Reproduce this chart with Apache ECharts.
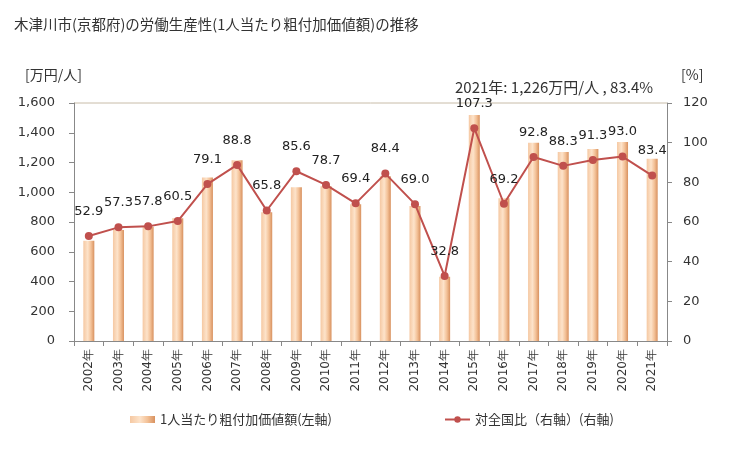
<!DOCTYPE html>
<html><head><meta charset="utf-8">
<script src="https://cdn.jsdelivr.net/npm/echarts@6/dist/echarts.min.js"></script>
<style>html,body{margin:0;padding:0;background:#fff}#c{width:729px;height:450px}</style>
</head><body><div id="c"></div>
<script>
const categories = ['2002年','2003年','2004年','2005年','2006年','2007年','2008年','2009年','2010年','2011年','2012年','2013年','2014年','2015年','2016年','2017年','2018年','2019年','2020年','2021年'];
const productivity = [674, 746, 768, 825, 1100, 1215, 865, 1033, 1040, 919, 1107, 908, 432, 1519, 959, 1333, 1271, 1291, 1338, 1226];
const ratio = [52.9, 57.3, 57.8, 60.5, 79.1, 88.8, 65.8, 85.6, 78.7, 69.4, 84.4, 69.0, 32.8, 107.3, 69.2, 92.8, 88.3, 91.3, 93.0, 83.4];
const leftTicks = {min: 0, max: 1600, interval: 200};
const rightTicks = {min: 0, max: 120, interval: 20};
const titleText = '木津川市(京都府)の労働生産性(1人当たり粗付加価値額)の推移';
const noteText = '2021年: 1,226万円/人 , 83.4%';
const barName = '1人当たり粗付加価値額(左軸)';
const lineName = '対全国比（右軸）(右軸)';

const jp = '"Noto Sans CJK JP", "Noto Sans", sans-serif';
const num = '"DejaVu Sans", Verdana, sans-serif';
const chart = echarts.init(document.getElementById('c'));
const barColor = new echarts.graphic.LinearGradient(0, 0, 1, 0, [
  {offset: 0, color: '#f5c8a2'},
  {offset: 0.4, color: '#fde3ca'},
  {offset: 0.7, color: '#f3c197'},
  {offset: 1, color: '#d8915f'}
]);
const legendText = {fontFamily: jp, fontSize: 13, color: '#333'};
chart.setOption({
  animation: false,
  title: [
    {text: titleText, left: 9, top: 12, textStyle: {fontFamily: jp, fontSize: 14.5, fontWeight: 'normal', color: '#333'}},
    {text: '[万円/人]', left: 20, top: 63, textStyle: {fontFamily: jp, fontSize: 14, fontWeight: 'normal', color: '#333'}},
    {text: '[%]', left: 676, top: 63, textStyle: {fontFamily: jp, fontSize: 14, fontWeight: 'normal', color: '#333'}},
    {text: noteText, left: 450, top: 75, textStyle: {fontFamily: jp, fontSize: 15, fontWeight: 'normal', color: '#333'}}
  ],
  grid: {left: 74, right: 62, top: 103, bottom: 109},
  legend: [
    {left: 125, top: 408, itemWidth: 25, itemHeight: 7, itemGap: 3, textStyle: legendText,
     data: [{name: barName, icon: 'rect'}]},
    {left: 439, top: 408, itemWidth: 25, itemHeight: 8, textStyle: legendText,
     data: [{name: lineName}]}
  ],
  xAxis: {
    type: 'category', data: categories,
    axisLine: {lineStyle: {color: '#888'}},
    axisTick: {show: true, length: 5, lineStyle: {color: '#888'}},
    axisLabel: {rotate: 90, fontFamily: num, fontSize: 12, color: '#333', margin: 8}
  },
  yAxis: [
    {type: 'value', min: leftTicks.min, max: leftTicks.max, interval: leftTicks.interval,
     axisLine: {show: true, lineStyle: {color: '#888'}},
     axisTick: {show: true, length: 5, lineStyle: {color: '#888'}},
     splitLine: {show: false},
     axisLabel: {fontFamily: num, fontSize: 13, color: '#333', margin: 19,
       formatter: v => v.toLocaleString('en-US')}},
    {type: 'value', min: rightTicks.min, max: rightTicks.max, interval: rightTicks.interval,
     axisLine: {show: true, lineStyle: {color: '#888'}},
     axisTick: {show: true, length: 5, lineStyle: {color: '#888'}},
     splitLine: {show: false},
     axisLabel: {fontFamily: num, fontSize: 13, color: '#333', margin: 16}}
  ],
  series: [
    {name: barName, type: 'bar', data: productivity, yAxisIndex: 0, barWidth: 11,
     itemStyle: {color: barColor}},
    {name: lineName, type: 'line', data: ratio, yAxisIndex: 1,
     symbol: 'circle', symbolSize: 8,
     lineStyle: {color: '#c0504d', width: 2}, itemStyle: {color: '#c0504d'},
     label: {show: true, position: 'top', distance: 14, fontFamily: num, fontSize: 13, color: '#222',
       formatter: p => p.value.toFixed(1)}}
  ]
});
const topY = chart.convertToPixel({yAxisIndex: 0}, leftTicks.max);
chart.setOption({graphic: [{type: 'line', shape: {x1: 74, y1: topY, x2: 667, y2: topY}, style: {stroke: '#c8bca8', lineWidth: 1}, z: 0}]});
</script></body></html>
